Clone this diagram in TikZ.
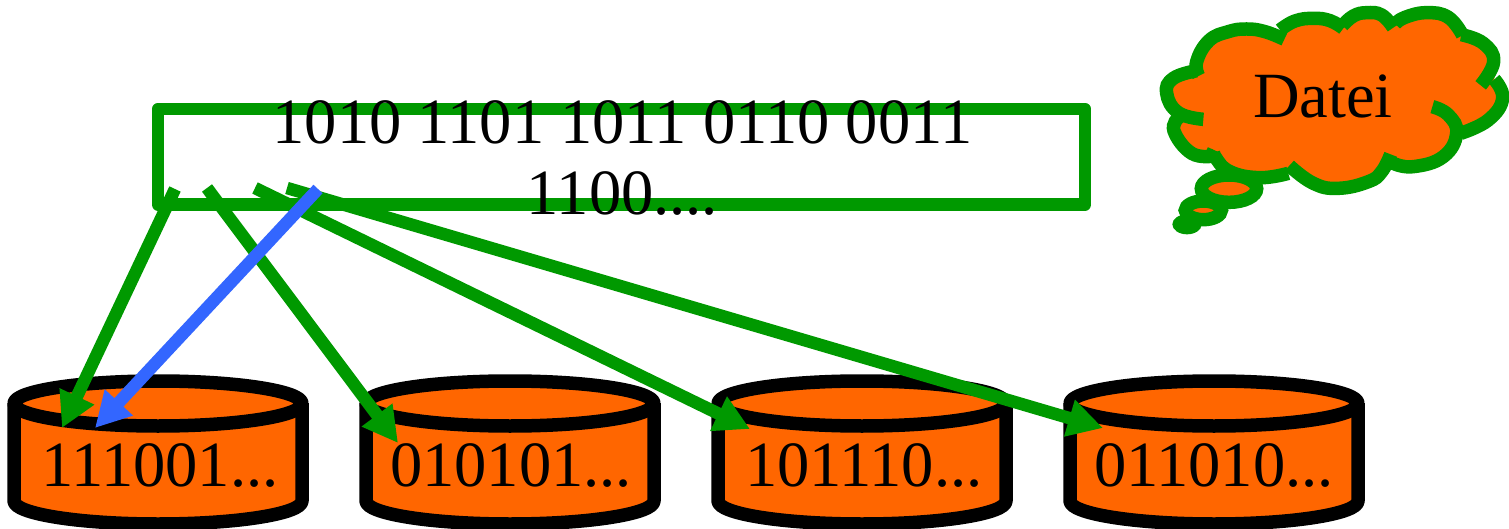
\documentclass[tikz,border=0pt]{standalone}
\usepackage{fontspec}
\setmainfont{Liberation Serif}
\usetikzlibrary{
    arrows.meta,
    positioning
}
\definecolor{linegreen}{HTML}{009900}
\definecolor{fillorange}{HTML}{FF6600}
\definecolor{arrowblue}{HTML}{3366FF}
\begin{document}
\begin{tikzpicture}[
    x=1pt, y=-1pt,
    font=\fontsize{64.5}{71}\selectfont,
    disk_style/.style={draw=black, line width=13.5pt, fill=fillorange, line join=round},
    bits_style/.style={draw=linegreen, line width=12.5pt, line join=round},
    link_style/.style={draw=linegreen, line width=12.5pt, -{Triangle[length=35pt,width=36pt]}},
    read_style/.style={link_style, draw=arrowblue},
    cloud_style/.style={draw=linegreen, line width=13.5pt},
    lobe/.style={smooth, tension=0.75},
    label_style/.style={anchor=base, inner sep=0pt}
]
    % Fix the page size
    \useasboundingbox (0,0) rectangle (1509,529);

    % The four disks
    \foreach \name/\cx/\tx/\val in {d1/158/160/111001, d2/510/511/010101, d3/862/864/101110, d4/1214/1214/011010}{
        \draw[disk_style] (\cx-144,403) -- (\cx-144,501) arc[start angle=180, end angle=0, x radius=144, y radius=23] -- (\cx+144,403);
        \draw[disk_style] (\cx,403.5) ellipse[x radius=144, y radius=22.5];
        \node[label_style] (\name) at (\tx,486) {\val...};
    }

    % The file as a bit string
    \draw[bits_style] (158,109) rectangle (1085,204.5);

    % Start and end of the links
    \coordinate (s1) at (175,189);
    \coordinate (s2) at (207,188);
    \coordinate (s3) at (255,188);
    \coordinate (s4) at (287,188);
    \coordinate (s5) at (318,189);
    \coordinate (t1) at (62,428);
    \coordinate (t2) at (398,443);
    \coordinate (t3) at (750,429);
    \coordinate (t4) at (1103,428);
    \coordinate (t5) at (95,428);

    \draw[link_style] (s1) -- (t1);
    \draw[link_style] (s2) -- (t2);
    \draw[link_style] (s3) -- (t3);
    \draw[link_style] (s4) -- (t4);
    \draw[read_style] (s5) -- (t5);

    \node[label_style, align=center] (bits) at (622.5,215) {1010 1101 1011 0110 0011\\1100....};

    % Thought cloud, traced in a 3x grid
    \begin{scope}[shift={(1150,0)}, scale=1/3]
        \fill[fillorange] (140,185) -- (177,122) -- (235,95) -- (290,87) -- (345,95) -- (390,90) -- (435,63) -- (490,55)
            -- (540,62) -- (577,77) -- (610,48) -- (650,38) -- (695,45) -- (735,72) -- (765,52) -- (830,38) -- (895,52)
            -- (938,106) -- (1000,130) -- (1031,185) -- (1033,238) -- (1058,295) -- (1015,360) -- (932,400) -- (880,470)
            -- (790,500) -- (722,490) -- (655,545) -- (565,565) -- (490,550) -- (415,520) -- (330,533) -- (240,515)
            -- (192,468) -- (125,460) -- (72,393) -- (86,350) -- (50,280) -- (70,235) -- cycle;
        \draw[cloud_style] plot[lobe] coordinates {(146,228) (140,185) (177,122) (235,95) (290,87) (345,95) (403,118)};
        \draw[cloud_style] plot[lobe] coordinates {(390,90) (435,63) (490,55) (540,62) (580,85)};
        \draw[cloud_style] plot[lobe] coordinates {(577,77) (610,48) (650,38) (695,45) (730,83)};
        \draw[cloud_style] plot[lobe] coordinates {(735,72) (765,52) (830,38) (895,52) (938,106)};
        \draw[cloud_style] plot[lobe] coordinates {(934,104) (1000,130) (1031,185) (992,256)};
        \draw[cloud_style] plot[lobe] coordinates {(1033,238) (1058,295) (1015,360) (932,400)};
        \draw[cloud_style] plot[lobe] coordinates {(847,320) (895,345) (920,400) (880,470) (790,500) (730,490)};
        \draw[cloud_style] plot[lobe] coordinates {(722,463) (695,515) (655,545) (565,565) (490,550) (418,497)};
        \draw[cloud_style] plot[lobe] coordinates {(415,520) (330,533) (240,515) (195,470) (192,450)};
        \draw[cloud_style] plot[lobe] coordinates {(192,468) (125,460) (72,393) (86,352)};
        \draw[cloud_style] plot[lobe] coordinates {(160,358) (85,338) (50,280) (70,235) (140,212)};
        \draw[cloud_style, fill=fillorange] (237,566) ellipse[x radius=83, y radius=41];
        \draw[cloud_style, fill=fillorange] (160,631) ellipse[x radius=54, y radius=28];
        \fill[linegreen] (111,673) ellipse[x radius=44, y radius=30];
    \end{scope}
    \node[label_style] (file) at (1323,118) {Datei};
\end{tikzpicture}
\end{document}
